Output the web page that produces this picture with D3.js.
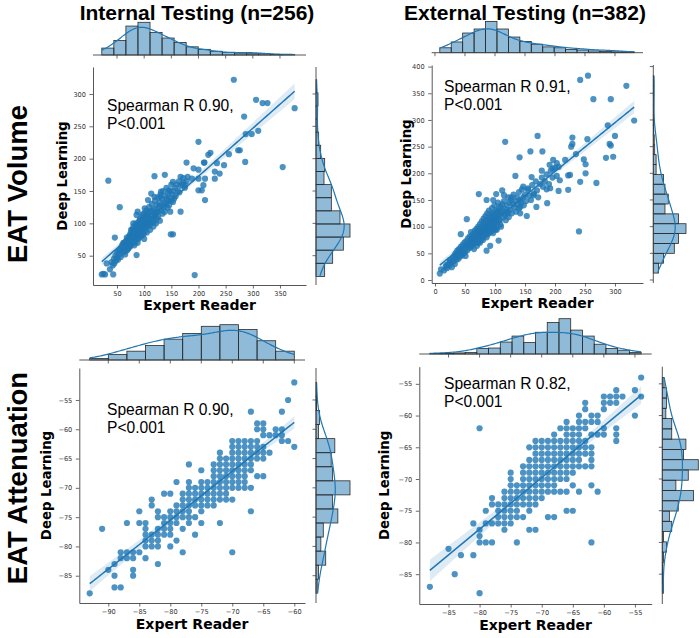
<!DOCTYPE html>
<html><head><meta charset="utf-8">
<script src="https://cdn.jsdelivr.net/npm/d3@7/dist/d3.min.js"></script>
<style>html,body{margin:0;padding:0;background:#fff}svg{display:block}</style>
</head><body>
<svg id="chart" width="700" height="638" xmlns="http://www.w3.org/2000/svg"></svg>
<script>
// ---------------- text ----------------
const colTitles = ["Internal Testing (n=256)", "External Testing (n=382)"];
const rowTitles = ["EAT Volume", "EAT Attenuation"];
const xLabelText = "Expert Reader";
const yLabelText = "Deep Learning";
const annotations = [["Spearman R 0.90,", "P<0.001"], ["Spearman R 0.91,", "P<0.001"],
                     ["Spearman R 0.90,", "P<0.001"], ["Spearman R 0.82,", "P<0.001"]];

// ---------------- Panel 1: EAT volume, internal ----------------
const p1XTicks = [50, 100, 150, 200, 250, 300, 350];
const p1YTicks = [50, 100, 150, 200, 250, 300];
const p1XDomain = [5.8, 397.9];
const p1YDomain = [4.7, 341.7];
const p1Points = [
 [265,322],[306,291],[318,286],[327,286],[377,278],[284,265],[287,238],[298,238],[310,243],[276,213],[273,213],[286,195],
 [355,187],[200,226],[256,207],[222,209],[218,206],[210,194],[211,194],[234,193],[247,190],[200,183],[178,194],[191,185],
 [230,180],[239,177],[212,169],[230,169],[212,136],[206,151],[209,159],[200,151],[34,166],[55,125],[46,78],[193,20],
 [22,21],[25,22],[28,21],[43,21],[37,29],[31,38],[153,83],[149,83],[119,173],[138,175],[153,164],[167,172],[172,163],
 [188,169],[200,169],[175,159],[146,151],[131,149],[130,141],[119,141],[113,146],[107,136],[101,123],[148,118],[167,118],
 [153,133],[88,118],[86,113],[95,105],[80,90],[86,51],
 [40,40],[42,35],[44,45],[45,38],[47,50],[48,42],[50,55],[50,47],[52,44],[53,58],[55,52],[56,60],[57,48],[58,63],[60,55],
 [60,67],[62,58],[63,70],[64,62],[65,52],[66,72],[67,65],[68,58],[69,75],[70,68],[71,62],[72,80],[73,70],[74,64],[75,85],
 [76,74],[77,68],[78,90],[79,78],[80,72],[80,100],[81,84],[82,66],[83,92],[84,80],[85,75],[86,96],[87,88],[88,70],[89,100],
 [90,84],[91,78],[92,106],[93,94],[94,88],[95,110],[96,98],[97,82],[98,104],[99,92],[100,115],[100,76],[101,100],[102,108],
 [103,94],[104,120],[105,86],[106,112],[107,102],[108,96],[109,125],[110,108],[111,90],[112,118],[113,100],[114,130],
 [115,112],[116,104],[117,95],[118,122],[119,110],[120,135],[121,116],[122,100],[123,128],[124,118],[125,140],[126,110],
 [127,125],[128,132],[129,104],[130,145],[131,120],[132,128],[133,138],[134,115],[135,150],[136,125],[137,132],[138,118],
 [139,142],[140,130],[141,155],[142,138],[143,124],[144,146],[145,135],[146,128],[147,150],[148,140],[150,135],[150,160],
 [152,145],[154,150],[155,138],[157,155],[158,142],[160,160],[162,150],[164,165],[165,148],[167,158],[170,160],[172,170],
 [175,155],[178,165],[180,172],
 [62,70],[64,56],[66,64],[68,78],[70,60],[72,74],[74,82],[75,66],[76,90],[78,72],[79,86],[80,95],[82,78],[83,70],[84,88],
 [85,100],[87,82],[88,95],[89,76],[90,92],[91,104],[92,86],[93,98],[94,80],[95,102],[96,90],[97,114],[98,96],[99,84],
 [100,106],[101,88],[102,98],[104,112],[105,95],[106,100],[108,116],[110,98],[112,106],[115,120],[118,102],[120,112],
 [123,108],[125,118]
];
const p1TopStart = 22, p1TopWidth = 22.19;
const p1TopCounts = [11,23,46,52,36,27,20,13,9,6,4,3,2,2,1,1];
const p1RightStart = 18, p1RightWidth = 20.27;
const p1RightCounts = [13,25,41,51,36,23,23,12,13,7,4,2,2,3,1];

// ---------------- Panel 2: EAT volume, external ----------------
const p2XTicks = [0, 50, 100, 150, 200, 250, 300];
const p2YTicks = [0, 50, 100, 150, 200, 250, 300, 350, 400];
const p2XDomain = [-5.5, 346.7];
const p2YDomain = [-5.6, 403];
const p2Points = [
 [242,375],[255,383],[319,364],[264,339],[293,339],[332,299],[288,290],[300,270],[291,255],[293,252],[297,231],[285,229],
 [171,270],[117,259],[229,267],[229,255],[227,250],[254,264],[235,236],[217,225],[248,226],[251,217],[251,200],[242,184],
 [269,182],[208,187],[222,196],[225,197],[179,241],[159,241],[141,230],[197,225],[203,219],[191,216],[196,209],[178,205],
 [161,193],[134,195],[73,161],[53,114],[43,86],[240,91],[8,12],[10,20],[19,28],[25,34],[169,137],[142,137],[112,168],
 [127,155],[97,150],[86,150],[102,161],[115,159],[147,175],[155,169],[164,159],[186,170],[192,172],[206,167],[222,169],
 [187,144],[153,120],[142,125],[121,125],[103,94],[106,74],[86,55],[92,64],
 [15,18],[18,25],[20,22],[22,30],[24,27],[25,38],[27,32],[28,24],[30,40],[31,35],[32,45],[33,30],[34,50],[35,42],[36,38],
 [37,55],[38,47],[39,40],[40,58],[41,50],[42,44],[43,62],[44,53],[45,46],[46,66],[47,57],[48,50],[49,70],[50,60],[50,52],
 [51,45],[52,73],[53,64],[54,56],[55,78],[56,67],[57,60],[58,82],[59,70],[60,62],[60,90],[61,74],[62,66],[63,85],[64,77],
 [65,58],[66,92],[67,80],[68,70],[69,96],[70,84],[70,64],[71,75],[72,100],[73,88],[74,78],[75,105],[75,70],[76,92],[77,82],
 [78,110],[79,96],[80,86],[80,75],[81,115],[82,100],[83,90],[84,120],[85,104],[86,94],[86,80],[87,125],[88,108],[89,98],
 [90,130],[90,88],[91,112],[92,102],[93,118],[94,106],[95,135],[95,92],[96,122],[97,110],[98,100],[99,140],[100,126],
 [100,115],[101,95],[102,130],[103,118],[104,108],[105,145],[106,134],[107,122],[108,112],[109,138],[110,126],[110,100],
 [112,142],[113,130],[114,118],[115,148],[116,134],[117,122],[118,112],[120,140],[121,128],[122,155],[123,118],[124,145],
 [125,132],[127,150],[128,125],[130,142],[131,160],[132,136],[134,148],[135,128],[137,155],[138,142],[140,165],[140,134],
 [142,150],[144,145],[145,170],[147,155],[148,140],[150,160],[152,148],[155,172],[157,158],[160,150],[162,178],[165,162],
 [168,185],[170,168],[172,155],[175,180],[178,192],[180,175],[183,185],[186,198],[190,180],[193,205],[196,192],[200,210],
 [203,195],[206,212],
 [60,70],[62,80],[64,68],[66,75],[68,88],[70,78],[71,92],[72,70],[74,84],[75,95],[76,74],[78,88],[79,100],[80,80],[81,95],
 [82,108],[83,84],[84,98],[85,90],[86,112],[87,100],[88,86],[89,104],[90,95],[91,118],[92,90],[93,108],[94,98],[95,125],
 [96,102],[97,88],[98,115],[99,106],[100,96],[101,120],[102,108],[104,100],[105,128],[107,112],[109,104]
];
const p2TopStart = 8, p2TopWidth = 19.06;
const p2TopCounts = [11,24,44,53,70,53,35,25,19,13,11,7,6,4,3,2,2];
const p2RightStart = 13, p2RightWidth = 18.5;
const p2RightCounts = [11,22,45,54,70,54,25,32,25,22,6,6,3,2,1,1,1,1,1,1];

// ---------------- Panel 3: EAT attenuation, internal ----------------
const p3XTicks = [-90, -85, -80, -75, -70, -65, -60];
const p3YTicks = [-85, -80, -75, -70, -65, -60, -55];
const p3XDomain = [-94.68, -58.27];
const p3YDomain = [-89.66, -49.54];
// rows: [deep learning value, [expert reader values]]
const p3Rows = [
 [-52,[-60]],[-55,[-61]],[-57,[-67,-62]],[-59,[-66,-65]],[-60,[-66,-65,-63,-62]],[-61,[-65,-64,-63,-62]],
 [-62,[-70,-69,-68,-67,-66,-62,-61]],[-63,[-70,-69,-68,-67,-66,-65,-60]],[-64,[-72,-70,-69,-68,-67,-66,-65,-64]],
 [-65,[-72,-71,-70,-69,-68,-67,-66,-65]],[-66,[-77,-73,-72,-71,-70,-69,-68,-67]],[-67,[-75,-73,-72,-71,-70,-69,-68,-67]],
 [-68,[-73,-72,-71,-70,-69,-68,-66,-65]],[-69,[-79,-77,-75,-74,-73,-72,-71,-70,-69,-68]],
 [-70,[-77,-76,-75,-74,-73,-72,-71,-70,-69,-68,-67]],[-71,[-81,-80,-78,-77,-76,-75,-74,-73,-72,-71]],
 [-72,[-83,-78,-77,-76,-75,-74,-73,-72,-71,-70]],[-73,[-83,-79,-78,-77,-76,-75,-74,-73]],
 [-74,[-85,-82,-80,-79,-78,-77,-75,-67]],[-75,[-82,-81,-80,-79,-78,-77,-76]],[-76,[-87,-85,-84,-81,-80,-79,-77,-75,-72]],
 [-77,[-91,-84,-82,-81,-80,-78]],[-78,[-84,-83,-82,-81,-80,-76]],[-79,[-84,-83,-82,-79]],[-80,[-84,-83,-82,-80]],
 [-81,[-88,-87,-86,-85,-78,-70]],[-82,[-88,-87,-86,-84]],[-83,[-89,-82]],[-84,[-90,-86]],[-85,[-89,-86]],
 [-87,[-89,-88]],[-88,[-93]]
];
const p3TopStart = -93, p3TopWidth = 3;
const p3TopCounts = [2,7,11,18,26,33,42,44,38,24,11];
const p3RightStart = -88, p3RightWidth = 2.4;
const p3RightCounts = [2,4,16,8,12,36,27,56,27,25,31,4,6,1,1];

// ---------------- Panel 4: EAT attenuation, external ----------------
const p4XTicks = [-85, -80, -75, -70, -65, -60, -55];
const p4YTicks = [-85, -80, -75, -70, -65, -60, -55];
const p4XDomain = [-89.7, -52.3];
const p4YDomain = [-89.7, -52.3];
const p4Rows = [
 [-54,[-54]],[-56,[-58,-55]],[-57,[-60,-59,-58,-57,-54]],[-58,[-63,-60,-59,-58]],[-59,[-63,-60]],[-60,[-64,-62,-61,-55]],
 [-61,[-66,-64,-63,-62,-61]],[-62,[-80,-67,-66,-65,-64,-63,-60,-58]],[-63,[-68,-66,-65,-64,-62,-61,-60,-58]],
 [-64,[-71,-70,-69,-68,-67,-66,-65,-64,-63,-58]],[-65,[-72,-71,-70,-69,-68,-67,-66,-65,-64,-63,-62]],
 [-66,[-71,-70,-69,-68,-67,-66,-65,-64,-63,-62]],[-67,[-72,-71,-70,-69,-68,-67,-66,-65,-64,-62]],
 [-68,[-73,-72,-71,-70,-69,-68,-67,-66,-65,-64,-63,-62]],[-69,[-75,-73,-72,-71,-70,-69,-68,-67,-66,-65]],
 [-70,[-75,-73,-72,-71,-70,-69,-68,-67,-66]],[-71,[-75,-74,-73,-72,-71,-70,-69,-68,-65,-62]],
 [-72,[-76,-75,-74,-73,-72,-71,-70,-69,-68,-67,-66,-64,-61]],[-73,[-78,-76,-75,-74,-73,-72,-71,-70]],
 [-74,[-78,-77,-76,-75,-74,-73,-72,-71]],[-75,[-79,-77,-76,-75,-74,-72,-66,-65]],[-76,[-77,-76,-75,-74,-73,-69,-68]],
 [-77,[-81,-79,-78,-77,-76,-75]],[-78,[-80,-76,-72,-71]],[-79,[-80]],[-80,[-80,-79,-78,-74,-62]],[-81,[-85]],
 [-82,[-83,-81]],[-85,[-84]],[-87,[-88]],[-88,[-80]]
];
const p4TopStart = -88, p4TopWidth = 1.889;
const p4TopCounts = [1,1,2,3,10,11,22,33,21,40,58,65,44,33,18,10,7,3];
const p4RightStart = -88, p4RightWidth = 1.619;
const p4RightCounts = [2,1,1,2,7,2,16,12,27,53,23,44,61,36,40,16,16,6,7,7,3];

// ---------------- build ----------------
const rowsToPoints = rows => rows.flatMap(([yv, xs]) => xs.map(xv => [xv, yv]));

const panels = [
 {pts:p1Points, xDom:p1XDomain, yDom:p1YDomain, xTicks:p1XTicks, yTicks:p1YTicks,
  top:[p1TopStart,p1TopWidth,p1TopCounts], right:[p1RightStart,p1RightWidth,p1RightCounts], ann:annotations[0],
  L:93, R:306, T:67, B:285, topBase:55, topPeak:32.7, rightBase:316, rightPeak:34,
  annX:107, annY:111, xlabY:310, ylabX:67},
 {pts:p2Points, xDom:p2XDomain, yDom:p2YDomain, xTicks:p2XTicks, yTicks:p2YTicks,
  top:[p2TopStart,p2TopWidth,p2TopCounts], right:[p2RightStart,p2RightWidth,p2RightCounts], ann:annotations[1],
  L:431.7, R:643, T:65, B:283, topBase:52.7, topPeak:31.3, rightBase:653.3, rightPeak:32.7,
  annX:444, annY:91.5, xlabY:308, ylabX:410.5},
 {pts:rowsToPoints(p3Rows), xDom:p3XDomain, yDom:p3YDomain, xTicks:p3XTicks, yTicks:p3YTicks,
  top:[p3TopStart,p3TopWidth,p3TopCounts], right:[p3RightStart,p3RightWidth,p3RightCounts], ann:annotations[2],
  L:79.3, R:305, T:368, B:603, topBase:360, topPeak:35.3, rightBase:316, rightPeak:34,
  annX:107, annY:414.5, xlabY:629, ylabX:50.5},
 {pts:rowsToPoints(p4Rows), xDom:p4XDomain, yDom:p4YDomain, xTicks:p4XTicks, yTicks:p4YTicks,
  top:[p4TopStart,p4TopWidth,p4TopCounts], right:[p4RightStart,p4RightWidth,p4RightCounts], ann:annotations[3],
  L:419.3, R:651.7, T:366.7, B:604, topBase:354, topPeak:35.3, rightBase:662.3, rightPeak:36,
  annX:444, annY:388.5, xlabY:630, ylabX:389}
];

const BLUE = "#1f77b4", SPINE = "#444", EDGE = "#2a2a2a";
const svg = d3.select("#chart");
const fmt = d3.format("d");

function kde(vals, lo, hi, n = 200) {
  const N = vals.length, sd = d3.deviation(vals), bw = sd * Math.pow(N, -0.2);
  const out = [];
  for (let i = 0; i <= n; i++) {
    const t = lo + (hi - lo) * i / n;
    let s = 0;
    for (const v of vals) { const z = (t - v) / bw; s += Math.exp(-0.5 * z * z); }
    out.push([t, s / (N * bw * Math.sqrt(2 * Math.PI))]);
  }
  return out;
}
function linreg(pts) {
  const n = pts.length, mx = d3.mean(pts, d => d[0]), my = d3.mean(pts, d => d[1]);
  let sxx = 0, sxy = 0;
  for (const [a, b] of pts) { sxx += (a - mx) ** 2; sxy += (a - mx) * (b - my); }
  const b1 = sxy / sxx, b0 = my - b1 * mx;
  let sse = 0;
  for (const [a, b] of pts) sse += (b - b0 - b1 * a) ** 2;
  return {b0, b1, mx, sxx, s: Math.sqrt(sse / (n - 2)), n};
}
function styleAxis(ax) {
  ax.attr("font-family", "DejaVu Sans").attr("font-size", 6.6);
  ax.select(".domain").attr("stroke", SPINE).attr("stroke-width", 0.9);
  ax.selectAll(".tick line").attr("stroke", SPINE).attr("stroke-width", 0.8);
  ax.selectAll(".tick text").attr("fill", "#333");
}

panels.forEach(p => {
  const x = d3.scaleLinear().domain(p.xDom).range([p.L, p.R]);
  const y = d3.scaleLinear().domain(p.yDom).range([p.B, p.T]);
  const g = svg.append("g");

  // ---- top marginal histogram ----
  const [ts, tw, tc] = p.top;
  const tScale = d3.scaleLinear().domain([0, d3.max(tc)]).range([0, p.topPeak]);
  g.append("g").selectAll("rect").data(tc).join("rect")
    .attr("x", (c, i) => x(ts + i * tw))
    .attr("width", (c, i) => x(ts + (i + 1) * tw) - x(ts + i * tw))
    .attr("y", c => p.topBase - tScale(c))
    .attr("height", c => tScale(c))
    .attr("fill", BLUE).attr("fill-opacity", 0.5)
    .attr("stroke", EDGE).attr("stroke-width", 0.8);
  const kx = kde(p.pts.map(d => d[0]), ts, ts + tw * tc.length);
  const totT = d3.sum(tc);
  g.append("path")
    .attr("d", d3.line().x(d => x(d[0])).y(d => p.topBase - tScale(d[1] * totT * tw))(kx))
    .attr("fill", "none").attr("stroke", BLUE).attr("stroke-width", 1.2);
  g.append("line").attr("x1", p.L).attr("x2", p.R).attr("y1", p.topBase).attr("y2", p.topBase)
    .attr("stroke", SPINE).attr("stroke-width", 0.9);
  g.append("g").selectAll("line").data(p.xTicks).join("line")
    .attr("x1", d => x(d)).attr("x2", d => x(d)).attr("y1", p.topBase).attr("y2", p.topBase + 3.5)
    .attr("stroke", SPINE).attr("stroke-width", 0.8);

  // ---- right marginal histogram ----
  const [rs, rw, rc] = p.right;
  const rScale = d3.scaleLinear().domain([0, d3.max(rc)]).range([0, p.rightPeak]);
  g.append("g").selectAll("rect").data(rc).join("rect")
    .attr("x", p.rightBase)
    .attr("width", c => rScale(c))
    .attr("y", (c, i) => y(rs + (i + 1) * rw))
    .attr("height", (c, i) => y(rs + i * rw) - y(rs + (i + 1) * rw))
    .attr("fill", BLUE).attr("fill-opacity", 0.5)
    .attr("stroke", EDGE).attr("stroke-width", 0.8);
  const ky = kde(p.pts.map(d => d[1]), rs, rs + rw * rc.length);
  const totR = d3.sum(rc);
  g.append("path")
    .attr("d", d3.line().y(d => y(d[0])).x(d => p.rightBase + rScale(d[1] * totR * rw))(ky))
    .attr("fill", "none").attr("stroke", BLUE).attr("stroke-width", 1.2);
  g.append("line").attr("x1", p.rightBase).attr("x2", p.rightBase).attr("y1", p.T).attr("y2", p.B)
    .attr("stroke", SPINE).attr("stroke-width", 0.9);
  g.append("g").selectAll("line").data(p.yTicks).join("line")
    .attr("y1", d => y(d)).attr("y2", d => y(d)).attr("x1", p.rightBase).attr("x2", p.rightBase - 3.5)
    .attr("stroke", SPINE).attr("stroke-width", 0.8);

  // ---- main axes ----
  const axB = g.append("g").attr("transform", `translate(0,${p.B})`)
    .call(d3.axisBottom(x).tickValues(p.xTicks).tickSize(3.5).tickSizeOuter(0).tickPadding(3).tickFormat(fmt));
  styleAxis(axB);
  const axL = g.append("g").attr("transform", `translate(${p.L},0)`)
    .call(d3.axisLeft(y).tickValues(p.yTicks).tickSize(3.5).tickSizeOuter(0).tickPadding(3.5).tickFormat(fmt));
  styleAxis(axL);

  // ---- scatter ----
  g.append("g").selectAll("circle").data(p.pts).join("circle")
    .attr("cx", d => x(d[0])).attr("cy", d => y(d[1])).attr("r", 3.1)
    .attr("fill", BLUE).attr("fill-opacity", 0.8);

  // ---- regression with 95% CI ----
  const r = linreg(p.pts);
  const [xmin, xmax] = d3.extent(p.pts, d => d[0]);
  const grid = d3.range(0, 101).map(i => xmin + (xmax - xmin) * i / 100);
  const band = grid.map(xv => {
    const yh = r.b0 + r.b1 * xv;
    const h = 1.97 * r.s * Math.sqrt(1 / r.n + (xv - r.mx) ** 2 / r.sxx);
    return [xv, yh - h, yh + h];
  });
  g.append("path")
    .attr("d", d3.area().x(d => x(d[0])).y0(d => y(d[1])).y1(d => y(d[2]))(band))
    .attr("fill", BLUE).attr("fill-opacity", 0.15);
  g.append("path")
    .attr("d", d3.line().x(d => x(d[0])).y(d => y(r.b0 + r.b1 * d[0]))(band))
    .attr("fill", "none").attr("stroke", BLUE).attr("stroke-width", 1.5);

  // ---- texts ----
  const ann = g.append("text").attr("font-family", "Liberation Sans, Arial, sans-serif")
    .attr("font-size", 15.6).attr("fill", "#000");
  ann.append("tspan").attr("x", p.annX).attr("y", p.annY).text(p.ann[0]);
  ann.append("tspan").attr("x", p.annX).attr("y", p.annY + 18.2).text(p.ann[1]);

  g.append("text").attr("x", (p.L + p.R) / 2).attr("y", p.xlabY).attr("text-anchor", "middle")
    .attr("font-family", "DejaVu Sans").attr("font-weight", "bold").attr("font-size", 14)
    .text(xLabelText);
  g.append("text").attr("transform", `translate(${p.ylabX},${(p.T + p.B) / 2}) rotate(-90)`)
    .attr("text-anchor", "middle")
    .attr("font-family", "DejaVu Sans").attr("font-weight", "bold").attr("font-size", 13.3)
    .text(yLabelText);
});

// column titles
svg.selectAll("text.coltitle").data(colTitles).join("text").attr("class", "coltitle")
  .attr("x", (d, i) => [197, 525][i]).attr("y", 19.5).attr("text-anchor", "middle")
  .attr("font-family", "Liberation Sans, Arial, sans-serif").attr("font-weight", "bold").attr("font-size", 21)
  .text(d => d);
// row titles
svg.selectAll("text.rowtitle").data(rowTitles).join("text").attr("class", "rowtitle")
  .attr("transform", (d, i) => `translate(26.5,${[184, 478][i]}) rotate(-90)`).attr("text-anchor", "middle")
  .attr("font-family", "Liberation Sans, Arial, sans-serif").attr("font-weight", "bold").attr("font-size", 27.5)
  .text(d => d);
</script>
</body></html>
